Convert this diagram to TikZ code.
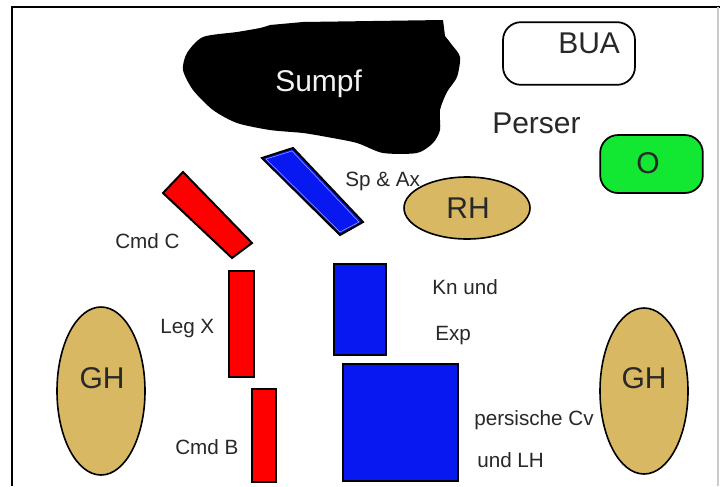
\documentclass[tikz,border=0pt]{standalone}
\usepackage{fontspec}
\setmainfont{Liberation Sans}
\definecolor{sandtan}{RGB}{217,184,100}
\definecolor{brightgreen}{RGB}{18,232,50}
\definecolor{deepblue}{RGB}{8,24,240}
\definecolor{labelgray}{RGB}{40,40,40}
\begin{document}
\begin{tikzpicture}[x=0.75pt,y=-0.75pt,
  outline/.style={draw=black,line width=1.5pt},
  bigtext/.style={font=\fontsize{22.5}{27}\selectfont,text=labelgray,inner sep=0pt},
  smalltext/.style={font=\fontsize{15.5}{18}\selectfont,text=labelgray,inner sep=0pt},
  redbar/.style={outline,fill=red},
  bluebar/.style={outline,fill=deepblue},
  hill/.style={draw=black,line width=1.2pt,fill=sandtan}]
\useasboundingbox (0,0) rectangle (720,486);
\fill[white] (0,0) rectangle (720,486);

% frame
\draw[line width=2.2pt] (12,486) -- (12,7) -- (720,7);
\draw[gray!40,line width=1pt] (718,7) -- (718,486);

% swamp: flat top edge, ragged smooth outline elsewhere
\fill[black] (270,25) -- (303,22) -- (443,20) -- (445,36)
  plot[smooth,tension=0.45] coordinates {
  (445,36) (452,45) (460,57) (457,77) (447,92)
  (440,110) (440,130) (433,143) (417,153) (383,153) (357,143) (327,137)
  (303,133) (270,130) (237,123) (213,110) (193,90) (183,70) (187,53)
  (203,37) (237,32) (260,28) (270,25)} -- cycle;
\node[bigtext,text=white!90!gray,anchor=base west] (sumpf) at (275,91) {Sumpf};

% BUA box
\node[outline,line width=1.3pt,rounded corners=13.5pt,minimum width=99pt,minimum height=47pt,inner sep=0pt]
  (buabox) at (569,53.5) {};
\node[bigtext,anchor=base west] (bua) at (558,53) {BUA};

\node[bigtext,anchor=base west] (perser) at (492,133) {Perser};

% O box
\node[outline,line width=1.3pt,fill=brightgreen,rounded corners=13.5pt,minimum width=77pt,minimum height=43.5pt,inner sep=0pt]
  (obox) at (651.5,164) {};
\node[bigtext] (o) at (648,163) {O};

% RH
\draw[hill] (467,208) ellipse [x radius=63,y radius=31];
\node[bigtext] (rh) at (468,208) {RH};

% tilted bars
\draw[bluebar] (262,158) -- (293,148) -- (363,222) -- (340,235) -- cycle;
\draw[white!60!deepblue,line width=0.4pt] (266,159) -- (292,151) -- (359,222) -- (340,232) -- cycle;
\draw[redbar] (163,193) -- (183,172) -- (252,243) -- (232,258) -- cycle;

% upright bars
\draw[redbar] (229,271) rectangle (254,377);
\draw[redbar] (252,389) rectangle (276,482);
\draw[bluebar] (334,264) rectangle (386,355);
\draw[bluebar] (343,364) rectangle (458,481);

% labels
\node[smalltext,anchor=base west] (spax) at (345,186) {Sp \& Ax};
\node[smalltext,anchor=base west] (cmdc) at (115,248) {Cmd C};
\node[smalltext,anchor=base west] (legx) at (160,333) {Leg X};
\node[smalltext,anchor=base west] (cmdb) at (175,454) {Cmd B};
\node[smalltext,anchor=base west] (knund) at (432,294) {Kn und};
\node[smalltext,anchor=base west] (exp) at (435,340) {Exp};
\node[smalltext,anchor=base west] (pcv) at (474,425) {persische Cv};
\node[smalltext,anchor=base west] (undlh) at (477,467) {und LH};

% hills
\draw[hill] (101,391) ellipse [x radius=44,y radius=84];
\node[bigtext] (ghl) at (102,378) {GH};
\draw[hill] (644,391) ellipse [x radius=44,y radius=83];
\node[bigtext] (ghr) at (644,378) {GH};
\end{tikzpicture}
\end{document}
